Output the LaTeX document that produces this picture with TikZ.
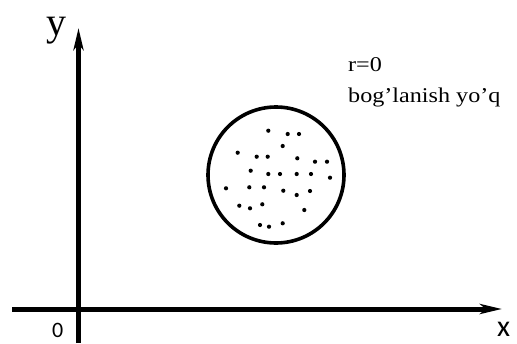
\documentclass[tikz,border=0pt]{standalone}
\usepackage{fontspec}
\usepackage{graphicx}
\setmainfont{Liberation Serif}
\newfontfamily\calib{Carlito}
\usetikzlibrary{arrows.meta}
\newcommand{\widetxt}[1]{\scalebox{1.15}[1]{#1}}
\begin{document}
\begin{tikzpicture}[x=1pt,y=-1pt,
  axis/.style={line width=5pt,-{Stealth[length=22pt,width=10pt,inset=6pt]}},
  dot/.style={circle,fill=black,inner sep=0pt,minimum size=4.2pt},
  lbl/.style={inner sep=0pt,anchor=base west}]
\useasboundingbox (0,0) rectangle (517,343);
\coordinate (ybot) at (78.5,343);
\coordinate (ytop) at (78.5,28);
\coordinate (xl) at (12,309);
\coordinate (xr) at (502,309);
\draw[axis] (ybot) -- (ytop);
\draw[axis] (xl) -- (xr);
\node[lbl,font=\fontsize{40}{40}\selectfont] (ylab) at (46,35) {y};
\node[lbl,font=\calib\fontsize{30}{30}\selectfont] (xlab) at (497,336) {x};
\node[lbl,font=\calib\fontsize{22}{22}\selectfont] (zero) at (52,337) {0};
\node[draw,circle,line width=3.6pt,minimum size=136pt,inner sep=0pt] (disc) at (276,175) {};
\node[lbl,font=\fontsize{21}{21}\selectfont] (r) at (348,71) {\widetxt{r=0}};
\node[lbl,font=\fontsize{21}{21}\selectfont] (bl) at (348,102) {\widetxt{bog’lanish yo’q}};
\foreach \p [count=\i] in {(268.3,130.7),(287.7,134),(299,134),(282.7,146),(237.7,152.7),(256.7,156.7),(267.7,156.7),(297.3,158.3),(315,161.7),(327,161.7),(250.7,170.7),(268.3,174),(280,174),(296.7,174),(311,174),(330,177.7),(226,188.3),(249.3,187.3),(264,187.3),(283.3,190.7),(296.7,195),(310,191),(239.3,205.7),(250,208.3),(262.3,204.3),(304.3,210),(260,225),(269,226.7),(282.7,223.3)}
  \node[dot] (d\i) at \p {};
\end{tikzpicture}
\end{document}
